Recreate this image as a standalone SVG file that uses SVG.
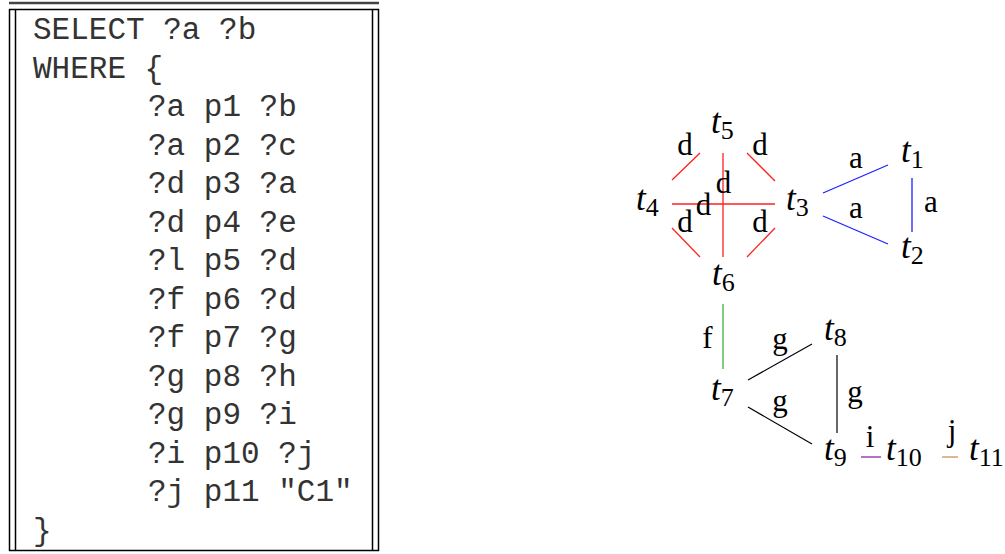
<svg xmlns="http://www.w3.org/2000/svg" width="1005" height="554" viewBox="0 0 1005 554">
<style>
.code{font-family:"Liberation Mono","Courier New",monospace;font-size:31px;fill:#333;}
.edge-label{font-family:"Liberation Serif","Times New Roman",serif;font-size:31px;fill:#000;text-anchor:middle;}
.t{font-family:"Liberation Serif","Times New Roman",serif;font-size:35px;font-style:italic;fill:#000;}
.sub{font-style:normal;font-size:26px;}
.box{stroke:#000;stroke-width:1.5;fill:none;}
.red{stroke:#ff2020;stroke-width:1.3;}
.blue{stroke:#2020ff;stroke-width:1.3;}
.green{stroke:#40b040;stroke-width:1.3;}
.black{stroke:#000;stroke-width:1.2;}
.purple{stroke:#a040b0;stroke-width:1.5;}
.tan{stroke:#d0a070;stroke-width:1.5;}
</style>
<rect width="1005" height="554" fill="#fff"/>
<g id="query-box">
<line x1="9" y1="3" x2="379" y2="3" stroke="#444" stroke-width="2.5"/>
<line class="box" x1="9" y1="9.5" x2="379" y2="9.5"/>
<line class="box" x1="9.5" y1="9" x2="9.5" y2="551"/>
<line class="box" x1="15.5" y1="9" x2="15.5" y2="551"/>
<line class="box" x1="372.5" y1="9" x2="372.5" y2="551"/>
<line class="box" x1="378.5" y1="9" x2="378.5" y2="551"/>
<line class="box" x1="9" y1="550.5" x2="379" y2="550.5"/>
<text class="code" x="33" y="39">SELECT ?a ?b</text>
<text class="code" x="33" y="77.5">WHERE {</text>
<text class="code" x="148" y="116">?a p1 ?b</text>
<text class="code" x="148" y="154.5">?a p2 ?c</text>
<text class="code" x="148" y="193">?d p3 ?a</text>
<text class="code" x="148" y="231.5">?d p4 ?e</text>
<text class="code" x="148" y="270">?l p5 ?d</text>
<text class="code" x="148" y="308.5">?f p6 ?d</text>
<text class="code" x="148" y="347">?f p7 ?g</text>
<text class="code" x="148" y="385.5">?g p8 ?h</text>
<text class="code" x="148" y="424">?g p9 ?i</text>
<text class="code" x="148" y="462.5">?i p10 ?j</text>
<text class="code" x="148" y="501">?j p11 "C1"</text>
<text class="code" x="33" y="539.5">}</text>
</g>
<g id="connectors">
<line class="red" x1="672" y1="180" x2="700" y2="153"/>
<line class="red" x1="747" y1="153" x2="775" y2="181"/>
<line class="red" x1="672" y1="228" x2="700" y2="257"/>
<line class="red" x1="747" y1="257" x2="775" y2="228"/>
<line class="red" x1="672" y1="204" x2="775" y2="204"/>
<line class="red" x1="723" y1="153" x2="723" y2="257"/>
<line class="blue" x1="823" y1="193" x2="888" y2="165"/>
<line class="blue" x1="823" y1="216" x2="888" y2="244"/>
<line class="blue" x1="912" y1="178" x2="912" y2="232"/>
<line class="green" x1="723" y1="304" x2="723" y2="369"/>
<line class="black" x1="748" y1="380" x2="812" y2="344"/>
<line class="black" x1="748" y1="407" x2="812" y2="444"/>
<line class="black" x1="837" y1="355" x2="837" y2="433"/>
<line class="purple" x1="861" y1="457" x2="881" y2="457"/>
<line class="tan" x1="942" y1="457" x2="958" y2="457"/>
<g font-size="31">
<text class="edge-label" x="685" y="155">d</text>
<text class="edge-label" x="760" y="155">d</text>
<text class="edge-label" x="723.5" y="193">d</text>
<text class="edge-label" x="703.5" y="215">d</text>
<text class="edge-label" x="685" y="232">d</text>
<text class="edge-label" x="760" y="232">d</text>
<text class="edge-label" x="856" y="168">a</text>
<text class="edge-label" x="856" y="218">a</text>
<text class="edge-label" x="931" y="212">a</text>
<text class="edge-label" x="707.5" y="348">f</text>
<text class="edge-label" x="780" y="349">g</text>
<text class="edge-label" x="780" y="411">g</text>
<text class="edge-label" x="855" y="402">g</text>
<text class="edge-label" x="870" y="447">i</text>
<text class="edge-label" x="952" y="441">j</text>
</g>
</g>
<g id="t1"><text class="t" x="901" y="162">t<tspan class="sub" dy="6">1</tspan></text></g>
<g id="t2"><text class="t" x="901" y="258">t<tspan class="sub" dy="6">2</tspan></text></g>
<g id="t3"><text class="t" x="786" y="210">t<tspan class="sub" dy="6">3</tspan></text></g>
<g id="t4"><text class="t" x="636" y="210">t<tspan class="sub" dy="6">4</tspan></text></g>
<g id="t5"><text class="t" x="711" y="133">t<tspan class="sub" dy="6">5</tspan></text></g>
<g id="t6"><text class="t" x="712" y="285">t<tspan class="sub" dy="6">6</tspan></text></g>
<g id="t7"><text class="t" x="711" y="400">t<tspan class="sub" dy="6">7</tspan></text></g>
<g id="t8"><text class="t" x="824" y="340">t<tspan class="sub" dy="6">8</tspan></text></g>
<g id="t9"><text class="t" x="824" y="460">t<tspan class="sub" dy="6">9</tspan></text></g>
<g id="t10"><text class="t" x="886" y="460">t<tspan class="sub" dy="6">10</tspan></text></g>
<g id="t11"><text class="t" x="969" y="460">t<tspan class="sub" dy="6">11</tspan></text></g>
</svg>
